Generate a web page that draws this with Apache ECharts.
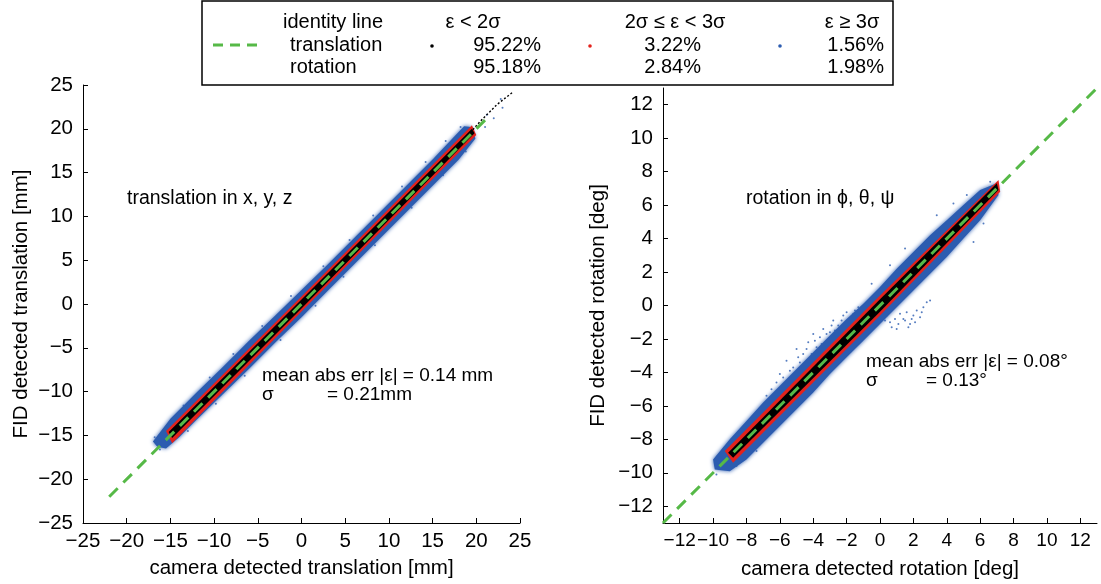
<!DOCTYPE html>
<html><head><meta charset="utf-8">
<script src="https://cdn.jsdelivr.net/npm/echarts@6/dist/echarts.min.js"></script>
<style>html,body{margin:0;padding:0;background:#fff}#c{width:1101px;height:584px}</style>
</head><body><div id="c"></div>
<script>
// ---------- data ----------
const transTicks = [-25,-20,-15,-10,-5,0,5,10,15,20,25];
const rotTicks = [-12,-10,-8,-6,-4,-2,0,2,4,6,8,10,12];

const transIdentity = [[-22,-22],[21.5,21.5]];
const rotIdentity = [[-13,-13],[13,13]];

// ε ≥ 3σ cloud envelope (blue) – translation
const transBlue = [[-17.0,-15.7],[-15,-13.1],[-12,-10.1],[-9,-7.2],[-6,-4.2],[-3,-1.3],[0,1.6],[3,4.5],[6,7.5],[9,10.5],[12,13.5],[15,16.5],[17,18.6],[18.6,20.3],[19.4,20.2],
  [19.9,18.9],[18,16.5],[15,13.5],[12,10.5],[9,7.5],[6,4.5],[3,1.5],[0,-1.5],[-3,-4.4],[-6,-7.4],[-9,-10.3],[-12,-13.2],[-14,-15.2],[-15.5,-16.5],[-16.5,-16.3]];
// 2σ ≤ ε < 3σ band (red) – translation
const transRed = [[-15.5,-14.5],[0,0.85],[19.5,20.4],[20,19.3],[0,-0.85],[-14.8,-15.9]];
// ε < 2σ core (black) – translation
const transBlack = [[-15.2,-14.6],[0,0.5],[19.5,20.0],[19.8,19.5],[0,-0.5],[-14.8,-15.3]];
// sparse tail beyond the cloud – translation
const transTail = [[19.6,19.9],[20.5,20.9],[21.5,21.9],[22.4,22.8],[23.3,23.5],[24.2,24.2]];
const transOutliers = [[-16.8,-15.2],[-16.2,-16.6],[-13.5,-11.6],[-10.5,-8.4],[-7.8,-5.7],[-4.5,-2.5],[-1.2,0.9],[2.5,4.3],[5.5,7.3],[8.2,10.1],[11.5,13.4],[14.2,16.2],[16.5,18.6],[18.2,20.2],
  [-13,-14.5],[-9.8,-11.4],[-6.5,-8.2],[-2.4,-4.1],[1.6,-0.2],[4.8,3.1],[8.4,6.7],[12.6,11.0],[16.2,14.7],[18.8,17.4],[21,20.2],[22,21.2],[23,22.4],[21.2,21.6],[22.8,23.4]];

// rotation clouds
const rotBlue = [[-10,-9.2],[-9,-8.0],[-8,-6.9],[-7,-5.8],[-6,-4.8],[-5,-3.8],[-4,-2.8],[-3,-1.8],[-2,-0.8],[-1,0.1],[0,1.1],[1,2.2],[2,3.2],[3,4.2],[4,5.1],[5,6.0],[6,6.9],[7,7.3],
  [7.1,6.6],[6,5.1],[5,4.0],[4,2.9],[3,1.9],[2,0.9],[1,-0.1],[0,-1.1],[-1,-2.1],[-2,-3.1],[-3,-4.1],[-4,-5.2],[-5,-6.2],[-6,-7.2],[-7,-8.2],[-8,-9.2],[-9,-9.9],[-9.9,-9.8]];
const rotRed = [[-9.3,-8.7],[0,0.6],[7.1,7.5],[7.2,6.8],[0,-0.6],[-8.8,-9.4]];
const rotBlack = [[-9.1,-8.8],[0,0.38],[7.0,7.3],[7.1,6.9],[0,-0.38],[-8.8,-9.1]];
const rotOutliers = [[-6.5,-5.0],[-6.2,-4.6],[-6,-4.1],[-5.8,-4.3],[-5.6,-3.3],[-5.4,-3.9],[-5.2,-3.7],[-5,-2.6],[-4.9,-3.1],[-4.8,-3.4],[-4.6,-2.9],[-4.4,-2.6],[-4.3,-2.2],[-4.1,-2.9],[-4,-1.7],[-3.9,-2.1],[-3.8,-2.5],[-3.6,-1.9],[-3.5,-2.3],[-3.4,-1.4],[-3.2,-1.7],[-3.1,-2.1],[-3,-1.6],[-2.9,-1.2],[-2.8,-0.9],[-2.7,-1.5],[-2.6,-1.8],[-2.5,-1.2],[-2.3,-0.9],[-2.2,-0.6],[-2,-0.4],[-1.9,-1.0],[-1.8,-0.8],[-1.6,-0.5],[-1.5,-0.3],[-1.3,-0.1],
  [0.3,-0.9],[0.4,-0.6],[0.6,-1.0],[0.7,-1.3],[0.9,-0.8],[1.0,-1.4],[1.1,-1.1],[1.2,-0.5],[1.4,-0.8],[1.5,-0.9],[1.6,-0.4],[1.7,-1.3],[1.8,-1.1],[1.9,-0.8],[2.0,-0.6],[2.1,-1.0],[2.2,-0.3],[2.4,-0.7],[2.5,-0.4],[2.6,-0.1],[2.8,0.2],[3.0,0.3],
  [-9.8,-10.1],[-9.6,-9.0],[-8.6,-9.6],[-7.4,-8.7],[-6.8,-5.4],[3.4,5.4],[4.4,6.1],[5.2,6.6],[5.6,3.8],[6.2,4.9],[6.6,7.4],[-0.5,1.3],[0.6,2.4],[1.5,3.4]];

// legend table
const legendCols = ['ε < 2σ','2σ ≤ ε < 3σ','ε ≥ 3σ'];
const transShares = ['95.22%','3.22%','1.56%'];
const rotShares = ['95.18%','2.84%','1.98%'];

// ---------- styling ----------
const FONT = 'Liberation Sans, Arial, Helvetica, sans-serif';
const GREEN = '#56b947', BLUE = '#2c5cb0', RED = '#e3221c', BLACK = '#000';
const minus = v => String(v).replace('-', '\u2212');

function axis(gi, ticks, min, max, name, gap, isY, labelSize) {
  return {
    type: 'value', gridIndex: gi, min: min, max: max,
    name: name, nameLocation: 'middle', nameGap: gap,
    nameTextStyle: {color: '#000', fontSize: 20.5, fontFamily: FONT},
    axisLine: {show: true, onZero: false, lineStyle: {color: '#000', width: 1}},
    axisTick: {show: true, inside: true, length: 5, customValues: ticks, lineStyle: {color: '#000', width: 1}},
    axisLabel: {show: true, customValues: ticks, interval: 0, hideOverlap: false, showMinLabel: true, showMaxLabel: true,
      formatter: minus, color: '#000', fontSize: labelSize || 20.5, fontFamily: FONT, margin: isY ? 10 : 8},
    splitLine: {show: false}
  };
}
function poly(gi, pts, color, z, blur) {
  return {type: 'custom', xAxisIndex: gi, yAxisIndex: gi, data: [0], silent: true, clip: true, z: z,
    renderItem: (p, api) => ({type: 'polygon', shape: {points: pts.map(q => api.coord(q))},
      style: {fill: color, shadowBlur: blur || 0, shadowColor: blur ? color : 'transparent'}})};
}
function dots(gi, pts, color, size, z) {
  return {type: 'scatter', xAxisIndex: gi, yAxisIndex: gi, data: pts, symbolSize: size, silent: true, z: z, itemStyle: {color: color}};
}
function identity(gi, pts) {
  return {type: 'line', xAxisIndex: gi, yAxisIndex: gi, data: pts, symbol: 'none', silent: true, z: 10,
    lineStyle: {color: GREEN, width: 3, type: [12, 8]}};
}

const txt = (text, x, y, align, size) => ({type: 'text', z: 100, style: {text: text, x: x, y: y, align: align || 'left', verticalAlign: 'middle', font: (size || 20) + 'px ' + FONT, fill: '#000'}});

const legendEls = [
  {type: 'rect', z: 90, shape: {x: 202, y: 1, width: 691, height: 84}, style: {fill: '#fff', stroke: '#000', lineWidth: 1.5}},
  {type: 'line', z: 100, shape: {x1: 213, y1: 45, x2: 257, y2: 45}, style: {stroke: GREEN, lineWidth: 3, lineDash: [10, 7]}},
  txt('identity line', 283, 22), txt('translation', 290, 45), txt('rotation', 290, 67),
  {type: 'circle', z: 100, shape: {cx: 432, cy: 46, r: 1.8}, style: {fill: BLACK}},
  {type: 'circle', z: 100, shape: {cx: 590, cy: 46, r: 1.8}, style: {fill: RED}},
  {type: 'circle', z: 100, shape: {cx: 780, cy: 46, r: 1.8}, style: {fill: BLUE}},
  txt(legendCols[0], 473, 22, 'center'), txt(legendCols[1], 675, 22, 'center'), txt(legendCols[2], 852, 22, 'center'),
  txt(transShares[0], 541, 45, 'right'), txt(transShares[1], 701, 45, 'right'), txt(transShares[2], 884, 45, 'right'),
  txt(rotShares[0], 541, 67, 'right'), txt(rotShares[1], 701, 67, 'right'), txt(rotShares[2], 884, 67, 'right'),
  // annotations
  txt('translation in x, y, z', 127, 199, 'left', 19.5), txt('mean abs err |ε| = 0.14 mm', 262, 376, 'left', 19), txt('σ', 262, 395, 'left', 19), txt('= 0.21mm', 327, 395, 'left', 19),
  txt('rotation in ϕ, θ, ψ', 746, 199, 'left', 19.5), txt('mean abs err |ε| = 0.08°', 866, 362, 'left', 19), txt('σ', 866, 381, 'left', 19), txt('= 0.13°', 926, 381, 'left', 19)
];

const chart = echarts.init(document.getElementById('c'), null, {renderer: 'canvas'});
chart.setOption({
  animation: false,
  backgroundColor: '#fff',
  grid: [
    {left: 83, top: 85, width: 437, height: 438, outerBoundsMode: 'none', containLabel: false},
    {left: 663, top: 88, width: 434, height: 435, outerBoundsMode: 'none', containLabel: false}
  ],
  xAxis: [
    axis(0, transTicks, -25, 25, 'camera detected translation [mm]', 35, false),
    axis(1, rotTicks, -13, 13, 'camera detected rotation [deg]', 36, false, 19)
  ],
  yAxis: [
    axis(0, transTicks, -25, 25, 'FID detected translation [mm]', 51, true),
    axis(1, rotTicks, -13, 13, 'FID detected rotation [deg]', 54, true)
  ],
  series: [
    dots(0, transOutliers, BLUE, 2, 1),
    poly(0, transBlue, BLUE, 2, 4), poly(0, transRed, RED, 3), poly(0, transBlack, BLACK, 4),
    {type: 'line', xAxisIndex: 0, yAxisIndex: 0, data: transTail, symbol: 'none', silent: true, z: 5, lineStyle: {color: BLACK, width: 1.4, type: [2, 2]}},
    identity(0, transIdentity),
    dots(1, rotOutliers, BLUE, 2, 1),
    poly(1, rotBlue, BLUE, 2, 4), poly(1, rotRed, RED, 3), poly(1, rotBlack, BLACK, 4),
    identity(1, rotIdentity)
  ],
  graphic: legendEls
});
</script></body></html>
